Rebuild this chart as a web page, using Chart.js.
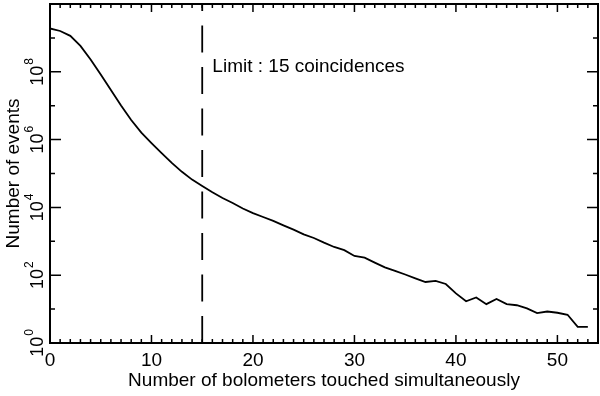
<!DOCTYPE html>
<html lang="en">
<head>
  <meta charset="UTF-8" />
  <title>Number of events vs bolometers touched</title>
  <script src="https://cdn.jsdelivr.net/npm/chart.js"></script>
  <style>
    html, body { margin: 0; padding: 0; background: #fff; }
    canvas { display: block; }
  </style>
</head>
<body>
  <canvas id="eventsChart" width="600" height="396"></canvas>

  <script>
    // number of bolometers touched in the same event
    const nBolometers = [
      0, 1, 2, 3, 4, 5, 6, 7, 8, 9,
      10, 11, 12, 13, 14, 15, 16, 17, 18, 19,
      20, 21, 22, 23, 24, 25, 26, 27, 28, 29,
      30, 31, 32, 33, 34, 35, 36, 37, 38, 39,
      40, 41, 42, 43, 44, 45, 46, 47, 48, 49,
      50, 51, 52, 53
    ];
    // number of events
    const nEvents = [
      1.9e9, 1.6e9, 1.15e9, 5.8e8, 2.3e8, 8.3e7, 2.9e7, 1.02e7, 3.8e6, 1.6e6,
      7.9e5, 4.0e5, 2.05e5, 1.12e5, 6.6e4, 4.3e4, 2.8e4, 1.9e4, 1.35e4, 9300,
      6800, 5200, 4000, 2950, 2200, 1600, 1250, 910, 680, 550,
      370, 330, 235, 170, 135, 105, 81, 63, 68, 55,
      29, 17, 22, 14, 20, 14, 13, 10.5, 7.6, 8.5,
      7.8, 6.8, 3, 3
    ];
    const xTicks = [0, 10, 20, 30, 40, 50];
    const yTickExponents = [0, 2, 4, 6, 8];
    const limitX = 15;
    const limitLabel = 'Limit : 15 coincidences';
    const limitLabelAt = { x: 16, y: 1e8 };

    const FONT = '"Liberation Sans", Arial, Helvetica, sans-serif';

    // frame, inward ticks on all 4 sides, rotated 10^n labels, annotation
    const frameAndTicks = {
      id: 'frameAndTicks',
      afterDraw(chart) {
        const { ctx, chartArea: a, scales: { x, y } } = chart;
        ctx.save();
        ctx.strokeStyle = '#000';
        ctx.fillStyle = '#000';

        ctx.lineWidth = 1.5;
        ctx.beginPath();
        for (let v = Math.ceil(x.min); v <= x.max; v++) {
          const px = x.getPixelForValue(v);
          const len = v % 10 === 0 ? 8 : 4;
          ctx.moveTo(px, a.bottom); ctx.lineTo(px, a.bottom - len);
          ctx.moveTo(px, a.top); ctx.lineTo(px, a.top + len);
        }
        const eMin = Math.round(Math.log10(y.min));
        const eMax = Math.round(Math.log10(y.max));
        for (let e = eMin; e <= eMax; e++) {
          const py = y.getPixelForValue(Math.pow(10, e));
          const len = e % 2 === 0 ? 11 : 5;
          ctx.moveTo(a.left, py); ctx.lineTo(a.left + len, py);
          ctx.moveTo(a.right, py); ctx.lineTo(a.right - len, py);
        }
        ctx.stroke();

        ctx.lineWidth = 2;
        ctx.strokeRect(a.left, a.top, a.right - a.left, a.bottom - a.top);

        // y tick labels: "10" with exponent, reading upward
        const baseFont = '18px ' + FONT;
        const expFont = '12px ' + FONT;
        yTickExponents.forEach(e => {
          const py = y.getPixelForValue(Math.pow(10, e));
          ctx.save();
          ctx.translate(a.left - 7, py);
          ctx.rotate(-Math.PI / 2);
          ctx.textBaseline = 'alphabetic';
          ctx.textAlign = 'left';
          ctx.font = baseFont;
          const wBase = ctx.measureText('10').width;
          ctx.font = expFont;
          const wExp = ctx.measureText(String(e)).width;
          const start = -(wBase + 1 + wExp) / 2;
          ctx.font = baseFont;
          ctx.fillText('10', start, 0);
          ctx.font = expFont;
          ctx.fillText(String(e), start + wBase + 1, -10);
          ctx.restore();
        });

        ctx.font = '19px ' + FONT;
        ctx.textAlign = 'left';
        ctx.textBaseline = 'alphabetic';
        ctx.fillText(limitLabel, x.getPixelForValue(limitLabelAt.x), y.getPixelForValue(limitLabelAt.y));
        ctx.restore();
      }
    };

    new Chart(document.getElementById('eventsChart'), {
      type: 'line',
      data: {
        datasets: [
          {
            data: nBolometers.map((b, i) => ({ x: b, y: nEvents[i] })),
            borderColor: '#000',
            borderWidth: 1.8,
            pointRadius: 0,
            tension: 0,
            fill: false
          },
          {
            data: [{ x: limitX, y: 1 }, { x: limitX, y: 1e10 }],
            borderColor: '#000',
            borderWidth: 1.8,
            borderDash: [27, 14.5],
            pointRadius: 0,
            fill: false
          }
        ]
      },
      options: {
        responsive: false,
        animation: false,
        layout: { padding: { left: 0, right: 2, top: 4, bottom: 0 } },
        plugins: {
          legend: { display: false },
          tooltip: { enabled: false }
        },
        scales: {
          x: {
            type: 'linear',
            min: 0,
            max: 54,
            grid: { display: false, drawTicks: false },
            border: { display: false },
            afterBuildTicks: scale => { scale.ticks = xTicks.map(v => ({ value: v })); },
            afterFit: scale => { scale.height = 53; },
            ticks: {
              color: '#000',
              padding: 8,
              maxRotation: 0,
              autoSkip: false,
              font: { family: FONT, size: 19, lineHeight: 1 }
            },
            title: {
              display: true,
              text: 'Number of bolometers touched simultaneously',
              color: '#000',
              font: { family: FONT, size: 19 },
              padding: { top: 0, bottom: 4 }
            }
          },
          y: {
            type: 'logarithmic',
            min: 1,
            max: 1e10,
            grid: { display: false, drawTicks: false },
            border: { display: false },
            afterFit: scale => { scale.width = 50; },
            ticks: { display: false },
            title: {
              display: true,
              text: 'Number of events',
              color: '#000',
              font: { family: FONT, size: 19 },
              padding: { top: 2, bottom: 0 }
            }
          }
        }
      },
      plugins: [frameAndTicks]
    });
  </script>
</body>
</html>
